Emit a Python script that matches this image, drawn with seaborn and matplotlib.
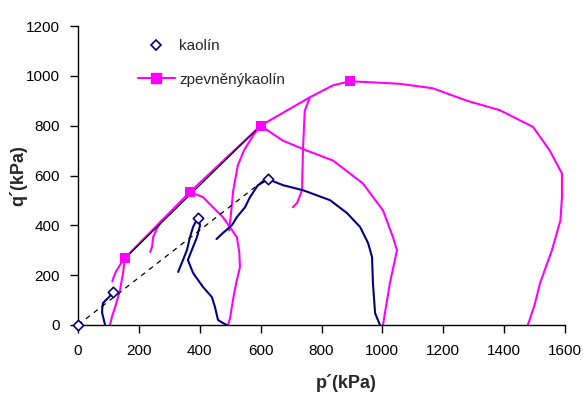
import matplotlib
matplotlib.use("Agg")
import matplotlib.pyplot as plt
import seaborn as sns
import pandas as pd
from matplotlib.lines import Line2D

# ---- data (p' and q' in kPa) ----
kaolin_100_p = [89, 84, 79, 80, 82, 90, 100, 112, 115, 120]
kaolin_100_q = [0, 25, 50, 70, 88, 98, 110, 125, 132, 128]
kaolin_500_p = [489, 476, 460, 450, 440, 411, 378, 361, 374, 391, 401, 394, 385, 378, 368, 358, 345, 329]
kaolin_500_q = [0, 8, 20, 72, 112, 152, 209, 261, 301, 353, 400, 429, 410, 393, 353, 301, 261, 213]
kaolin_1000_p = [992, 976, 969, 966, 953, 927, 884, 828, 739, 674, 624, 591, 565, 549, 522, 506, 476, 455]
kaolin_1000_q = [0, 48, 168, 273, 329, 393, 449, 501, 541, 561, 585, 561, 513, 473, 433, 401, 369, 345]
kaolin_peak_p = [0, 115, 394, 624]
kaolin_peak_q = [0, 132, 429, 585]

zk_100_p = [105, 112, 122, 138, 148, 154, 140, 125, 115, 113]
zk_100_q = [0, 35, 72, 140, 208, 269, 245, 215, 185, 175]
zk_line_p = [154, 368, 600]
zk_line_q = [269, 534, 800]
zk_drop_p = [276, 260, 247, 243, 237]
zk_drop_q = [421, 389, 353, 313, 293]
zk_500_p = [493, 500, 509, 520, 532, 530, 522, 499, 476, 443, 411, 368]
zk_500_q = [0, 30, 100, 170, 232, 290, 352, 393, 433, 473, 513, 534]
zk_800tail_p = [600, 575, 545, 525, 510, 502, 497]
zk_800tail_q = [800, 760, 700, 640, 540, 440, 380]
zk_1000_p = [1002, 1010, 1025, 1048, 1035, 1002, 936, 838, 752, 673, 600]
zk_1000_q = [0, 60, 170, 300, 352, 460, 568, 660, 700, 740, 800]
zk_1500_p = [1478, 1500, 1518, 1557, 1585, 1590, 1590, 1550, 1495, 1386, 1278, 1166, 1058, 950, 893,
             838, 762, 745, 739, 736, 720, 706]
zk_1500_q = [0, 80, 168, 300, 420, 512, 608, 700, 795, 862, 900, 950, 968, 975, 978,
             962, 914, 860, 700, 541, 490, 473]
zk_link_p = [600, 762]
zk_link_q = [800, 914]
zk_peak_p = [154, 368, 600, 893]
zk_peak_q = [269, 534, 800, 978]

kaolin_fit_p = [0, 620]
kaolin_fit_q = [0, 590]
zk_fit_p = [150, 600]
zk_fit_q = [262, 800]

x_ticks = [0, 200, 400, 600, 800, 1000, 1200, 1400, 1600]
y_ticks = [0, 200, 400, 600, 800, 1000, 1200]
legend_labels = ["kaolín", "zpevněnýkaolín"]

NAVY = "#000080"
MAGENTA = "#FF00FF"

def long_df(paths):
    rows = []
    for name, (ps, qs) in paths.items():
        for i, (p, q) in enumerate(zip(ps, qs)):
            rows.append({"path": name, "order": i, "p": p, "q": q})
    return pd.DataFrame(rows)

kaolin_df = long_df({
    "k100": (kaolin_100_p, kaolin_100_q),
    "k500": (kaolin_500_p, kaolin_500_q),
    "k1000": (kaolin_1000_p, kaolin_1000_q),
})
zk_df = long_df({
    "z100": (zk_100_p, zk_100_q),
    "zline": (zk_line_p, zk_line_q),
    "zdrop": (zk_drop_p, zk_drop_q),
    "z500": (zk_500_p, zk_500_q),
    "z800": (zk_800tail_p, zk_800tail_q),
    "z1000": (zk_1000_p, zk_1000_q),
    "z1500": (zk_1500_p, zk_1500_q),
    "zlink": (zk_link_p, zk_link_q),
})

sns.set_theme(style="ticks")
plt.rcParams["font.family"] = ["Liberation Sans", "DejaVu Sans"]

fig = plt.figure(figsize=(5.83, 3.96), dpi=100)
ax = fig.add_axes([78 / 583, 1 - 325 / 396, (565 - 78) / 583, (325 - 26) / 396])

sns.lineplot(data=zk_df, x="p", y="q", units="path", estimator=None, sort=False,
             color=MAGENTA, linewidth=1.5, ax=ax, legend=False)
sns.lineplot(data=kaolin_df, x="p", y="q", units="path", estimator=None, sort=False,
             color=NAVY, linewidth=1.5, ax=ax, legend=False)

ax.plot(kaolin_fit_p, kaolin_fit_q, color="black", linestyle=(0, (4, 4)), linewidth=0.9)
ax.plot(zk_fit_p, zk_fit_q, color="black", linestyle="-", linewidth=0.9)

sns.scatterplot(x=kaolin_peak_p, y=kaolin_peak_q, marker="D", s=28, facecolor="white",
                edgecolor=NAVY, linewidth=1.2, ax=ax, clip_on=False, zorder=5, legend=False)
sns.scatterplot(x=zk_peak_p, y=zk_peak_q, marker="s", s=50, color=MAGENTA,
                edgecolor=MAGENTA, linewidth=0, ax=ax, clip_on=False, zorder=5, legend=False)

ax.set_xlim(0, 1600)
ax.set_ylim(0, 1200)
ax.set_xticks(x_ticks)
ax.set_yticks(y_ticks)
ax.tick_params(axis="both", direction="out", length=6, width=1, color="black",
               labelsize=11, labelcolor="black")
ax.tick_params(axis="x", pad=8)
ax.tick_params(axis="y", pad=7)
for s in ["top", "right"]:
    ax.spines[s].set_visible(False)
for s in ["left", "bottom"]:
    ax.spines[s].set_color("black")
    ax.spines[s].set_linewidth(1)

ax.set_xlabel("p´(kPa)", fontsize=13, fontweight="bold")
ax.set_ylabel("q´(kPa)", fontsize=13, fontweight="bold")
ax.xaxis.set_label_coords(0.55, -0.165)
ax.yaxis.set_label_coords(-0.105, 0.5)

handles = [
    Line2D([], [], color=NAVY, marker="D", markersize=5, markerfacecolor="white",
           markeredgewidth=1.2, linestyle="none"),
    Line2D([], [], color=MAGENTA, marker="s", markersize=7, linewidth=1.5),
]
ax.legend(handles, legend_labels, loc="upper left", bbox_to_anchor=(0.123, 0.955),
          frameon=False, fontsize=11, handlelength=2.4, handletextpad=0.3,
          labelspacing=1.25, borderpad=0, borderaxespad=0)

fig.savefig("out.png", dpi=100)
